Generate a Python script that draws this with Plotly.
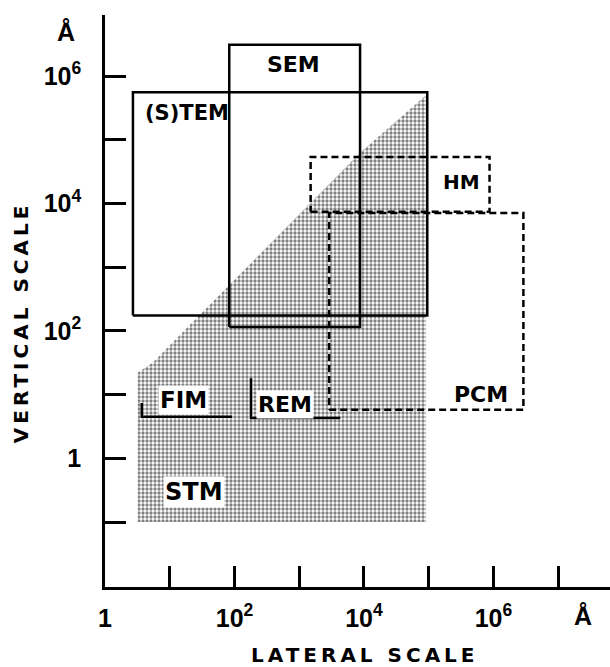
import plotly.graph_objects as go

# ---- data (values in Angstrom) ----
box_names = ["(S)TEM", "SEM", "HM", "PCM"]
box_x_lo = [2.7, 83, 1500, 2900]
box_x_hi = [95000, 8700, 870000, 2.9e6]
box_y_lo = [175, 115, 7400, 5.8]
box_y_hi = [560000, 3.1e6, 54000, 7100]

# L-shaped ranges (FIM, REM): lateral range and vertical range
fim_x = [3.7, 92]
fim_y = [4.5, 7.4]
rem_x = [180, 4300]
rem_y = [4.3, 18]

# STM shaded region outline
stm_x = [3.2, 3.2, 5.5, 8700, 91000, 91000]
stm_y = [0.1, 22, 32, 63000, 500000, 0.1]

x_tick_vals = [1, 10, 100, 1e3, 1e4, 1e5, 1e6, 1e7]
x_tick_text = ["1", "", "10<sup>2</sup>", "", "10<sup>4</sup>", "", "10<sup>6</sup>", ""]
y_tick_vals = [0.1, 1, 10, 100, 1e3, 1e4, 1e5, 1e6]
y_tick_text = ["", "1", "", "10<sup>2</sup>", "", "10<sup>4</sup>", "", "10<sup>6</sup>"]

LBL = dict(family="DejaVu Sans", size=22, color="black", weight="bold")
TICKF = dict(family="Liberation Sans", size=25, color="black", weight="bold")

fig = go.Figure()

# STM stippled area
fig.add_trace(go.Scatter(
    x=stm_x + [stm_x[0]], y=stm_y + [stm_y[0]], mode="lines", fill="toself",
    line=dict(width=0, color="rgba(0,0,0,0)"),
    fillcolor="white",
    fillpattern=dict(shape=".", size=4, solidity=0.52, fgcolor="black", bgcolor="white"),
    hoverinfo="skip", showlegend=False))

# boxes
dash_style = {"(S)TEM": "solid", "SEM": "solid", "HM": "7px,4px", "PCM": "7px,4px"}
for n, x0, x1, y0, y1 in zip(box_names, box_x_lo, box_x_hi, box_y_lo, box_y_hi):
    fig.add_trace(go.Scatter(
        x=[x0, x1, x1, x0, x0], y=[y0, y0, y1, y1, y0], mode="lines",
        line=dict(color="black", width=2.5, dash=dash_style[n]),
        hoverinfo="skip", showlegend=False))

# FIM and REM L-shapes
for lx, ly in [(fim_x, fim_y), (rem_x, rem_y)]:
    fig.add_trace(go.Scatter(
        x=[lx[0], lx[0], lx[1]], y=[ly[1], ly[0], ly[0]], mode="lines",
        line=dict(color="black", width=2.5),
        hoverinfo="skip", showlegend=False))

ann = []
# region labels (positions in log10 units)
ann.append(dict(x=2.91, y=6.18, text="SEM", xref="x", yref="y", showarrow=False, font=LBL))
ann.append(dict(x=0.59, y=5.42, text="(S)TEM", xref="x", yref="y", showarrow=False,
                xanchor="left", font=dict(LBL, size=21)))
ann.append(dict(x=5.50, y=4.34, text="HM", xref="x", yref="y", showarrow=False, font=dict(LBL, size=20)))
ann.append(dict(x=5.80, y=1.00, text="PCM", xref="x", yref="y", showarrow=False, font=LBL))
ann.append(dict(x=1.21, y=0.92, text="FIM", xref="x", yref="y", showarrow=False,
                bgcolor="white", borderpad=1, font=dict(LBL, size=23)))
ann.append(dict(x=2.78, y=0.84, text="REM", xref="x", yref="y", showarrow=False,
                bgcolor="white", borderpad=1, font=LBL))
ann.append(dict(x=1.37, y=-0.53, text="STM", xref="x", yref="y", showarrow=False,
                bgcolor="white", borderpad=1, font=dict(LBL, size=24)))
# unit marks
ann.append(dict(x=-0.099, y=0.998, text="Å", xref="paper", yref="paper", showarrow=False, font=TICKF))
ann.append(dict(x=0.968, y=-0.079, text="Å", xref="paper", yref="paper", showarrow=False, font=TICKF))
# axis titles
ann.append(dict(x=0.515, y=-0.144, text="LATERAL SCALE", xref="paper", yref="paper", showarrow=False,
                font=dict(family="DejaVu Sans", size=20, color="black", weight="bold")))
ann.append(dict(x=-0.194, y=0.463, text="VERTICAL SCALE", xref="paper", yref="paper", showarrow=False,
                textangle=-90, font=dict(family="DejaVu Sans", size=20, color="black", weight="bold")))

axis_common = dict(type="log", showline=True, linewidth=2.5, linecolor="black",
                   ticks="inside", ticklen=21, tickwidth=2.5, tickcolor="black",
                   showgrid=False, zeroline=False, tickfont=TICKF)

fig.update_layout(
    width=610, height=667,
    margin=dict(l=105, r=0, t=15, b=80),
    paper_bgcolor="white", plot_bgcolor="white",
    xaxis=dict(axis_common, range=[0, 7.8], tickvals=x_tick_vals, ticktext=x_tick_text,
               ticklabelstandoff=7),
    yaxis=dict(axis_common, range=[-2.02, 6.96], tickvals=y_tick_vals, ticktext=y_tick_text,
               ticklabelstandoff=16),
    annotations=ann,
    showlegend=False,
)

js = """
document.body.style.margin = '0';
document.body.style.overflow = 'hidden';
var gd = document.getElementById('{plot_id}');
function ls(){ gd.querySelectorAll('.annotation-text').forEach(function(t){
  if(t.textContent.indexOf('SCALE')>=0){ t.style.letterSpacing='4px'; } }); }
ls(); gd.on('plotly_afterplot', ls);
"""
fig.write_html("out.html", post_script=js, config={"displayModeBar": False})
